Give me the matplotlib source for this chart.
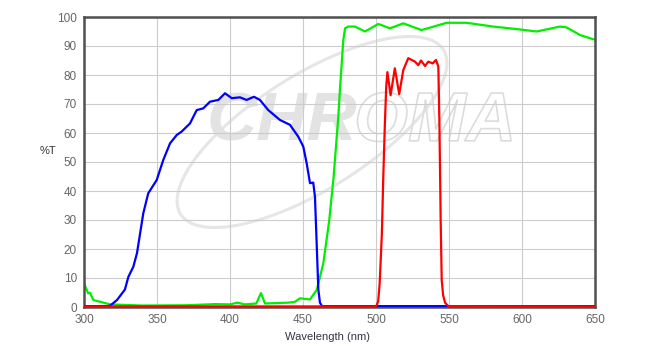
import matplotlib
matplotlib.use("Agg")
import matplotlib.pyplot as plt
import matplotlib.patheffects as pe
from matplotlib.patches import Ellipse

plt.rcParams['font.family'] = ['Liberation Sans', 'DejaVu Sans']

# blue curve (excitation)
blue_nm = [300, 316, 318, 322.6, 328, 330.4, 333.8, 336.3, 340.6, 344, 349.8, 354.3, 358.9,
           363.5, 366.9, 372.6, 377.2, 381.7, 386.3, 392, 396.6, 401.2, 406.8, 411.4,
           416.4, 420.5, 426.2, 434.2, 441.1, 446.8, 450.2, 452.5, 454.8, 457, 458.2,
           459.5, 460.5, 461.6, 463, 650]
blue_t = [0.3, 0.3, 0.5, 2.4, 6, 10.4, 13.9, 18.6, 32.3, 39.2, 43.8, 50.7, 56.4,
          59.3, 60.5, 63.3, 67.9, 68.5, 70.8, 71.4, 73.7, 72, 72.3, 71.4,
          72.5, 71.4, 67.9, 64.5, 62.8, 58.7, 55.3, 49.6, 42.7, 42.9, 38,
          20, 6, 1.5, 0.3, 0.3]

# green curve (emission)
green_nm = [300, 302.9, 304.1, 306.4, 311, 317.8, 340, 370, 390, 400, 405, 410, 418,
            421.2, 424, 440, 444.5, 447.9, 454.8, 459.4, 463.9, 468, 471, 473, 474.2,
            475.3, 477.6, 478.8, 481, 485.6, 492.5, 501.6, 509.6, 518.7, 531.2, 548.4,
            562, 580.3, 598.6, 610, 626, 630.6, 639.7, 648.9, 650]
green_t = [8.2, 4.7, 4.9, 2.4, 1.8, 0.9, 0.5, 0.6, 1.0, 0.9, 1.5, 0.9, 1.2,
           4.8, 1.2, 1.5, 1.8, 3.0, 2.6, 5.9, 15, 30, 45, 58, 65.6,
           75, 92, 96.1, 96.7, 96.7, 95, 97.6, 96.1, 97.8, 95.5, 98,
           98, 96.7, 95.7, 95, 96.7, 96.4, 93.8, 92.3, 92.3]

# red curve (dichroic)
red_nm = [300, 499.5, 500.5, 501.5, 502.5, 504, 505, 506, 507, 507.8, 510, 512.9, 515.9,
          518.7, 522.1, 526.7, 529, 530.8, 533.6, 535.8, 538.8, 541.1, 542.7, 543.4,
          544.3, 545, 546, 547.3, 549.5, 651]
red_t = [0.2, 0.2, 0.6, 2, 8, 25, 45, 62, 76, 81, 73, 82.3, 73.4,
         81.7, 85.8, 84.6, 83.4, 85, 83.1, 84.6, 84, 85.2, 82.9, 64.5,
         30, 9.3, 4, 1.5, 0.3, 0.2]

fig = plt.figure(figsize=(6.52, 3.54), dpi=100)
ax = fig.add_axes([84/652, 47/354, 511/652, 290/354])

# watermark logo
ax.add_patch(Ellipse((3.12, 2.22), 3.1, 1.15, angle=32, fill=False, ec='#e6e6e6', lw=2.2,
                     transform=fig.dpi_scale_trans, zorder=0.1))
ax.text(487, 63.5, 'CHR', fontsize=50, fontweight='bold', fontstyle='italic',
        color='#e3e3e3', ha='right', va='center', zorder=0.2)
ax.text(485, 63.5, 'OMA', fontsize=50, fontweight='bold', fontstyle='italic',
        color='none', ha='left', va='center', zorder=0.2,
        path_effects=[pe.Stroke(linewidth=1.2, foreground='#dcdcdc')])

ax.plot(blue_nm, blue_t, color='#0000ff', lw=1.6, zorder=3)
ax.plot(green_nm, green_t, color='#00ee00', lw=1.6, zorder=2)
ax.plot(red_nm, red_t, color='#ff0000', lw=1.6, zorder=4)

ax.set_xlim(300, 650)
ax.set_ylim(0, 100)
ax.set_xticks(range(300, 651, 50))
ax.set_yticks(range(0, 101, 10))
ax.grid(True, color='#cccccc', lw=0.8)
ax.set_axisbelow(True)
ax.tick_params(length=0, labelsize=8.5, labelcolor='#666666', pad=5)
for s in ax.spines.values():
    s.set_color('#505050')
    s.set_linewidth(1.8)

ax.set_xlabel('Wavelength (nm)', fontsize=8, color='#333344', labelpad=6)
ax.xaxis.set_label_coords(0.477, -0.085)
ax.set_ylabel('%T', fontsize=8, color='#333333', rotation=0, labelpad=18)
ax.yaxis.set_label_coords(-0.07, 0.52)

fig.savefig('out.png', dpi=100)
